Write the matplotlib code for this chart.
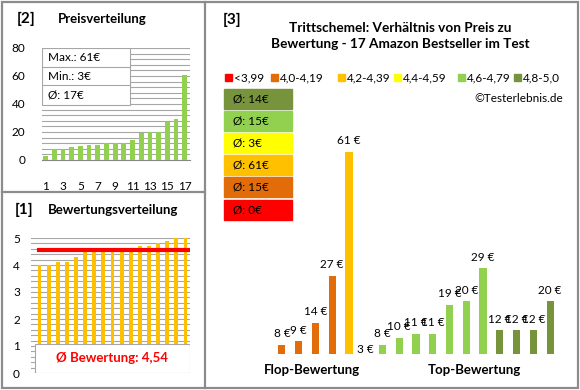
import numpy as np
import matplotlib
matplotlib.use('Agg')
import matplotlib.pyplot as plt
from matplotlib.patches import Rectangle

plt.rcParams['font.family'] = ['Lato', 'DejaVu Sans']

# --- data ---
class_labels = ['<3,99', '4,0-4,19', '4,2-4,39', '4,4-4,59', '4,6-4,79', '4,8-5,0']
class_colors = ['#FF0000', '#E36C0A', '#FFC000', '#FFFF00', '#92D050', '#77933C']

prices_sorted = [3, 8, 8, 9, 10, 11, 11, 12, 12, 12, 14, 19, 20, 20, 27, 29, 61]
ratings_sorted = [4.0, 4.0, 4.1, 4.1, 4.3, 4.5, 4.5, 4.5, 4.5, 4.5, 4.5, 4.7, 4.7, 4.8, 4.9, 5.0, 5.0]
mean_rating = 4.54

bar_prices = [8, 9, 14, 27, 61, 3, 8, 10, 11, 11, 19, 20, 29, 12, 12, 12, 20]
bar_class = [1, 1, 1, 1, 2, 3, 4, 4, 4, 4, 4, 4, 4, 5, 5, 5, 5]

title = 'Trittschemel: Verhältnis von Preis zu\nBewertung - 17 Amazon Bestseller im Test'

W, H = 580, 390
fig = plt.figure(figsize=(W / 100, H / 100), dpi=100)


def rect(x0, y0, x1, y1):
    return [x0 / W, 1 - y1 / H, (x1 - x0) / W, (y1 - y0) / H]


def rnd(v):
    return int(np.floor(v + 0.5))


# overlay in pixel coords for frames and free text
ov = fig.add_axes([0, 0, 1, 1], zorder=-1)
ov.set_xlim(0, W)
ov.set_ylim(H, 0)
ov.axis('off')
bc = '#8C8C8C'
ov.add_patch(Rectangle((1.5, 1.5), 576, 386.5, fill=False, ec=bc, lw=1.6))
ov.plot([205, 205], [1.5, 388], color=bc, lw=1.6)
ov.plot([1.5, 205], [192, 192], color=bc, lw=1.6)

ov.text(17, 19, '[2]', fontsize=11, fontweight='bold', va='center')
ov.text(58, 19, 'Preisverteilung', fontsize=9.5, fontweight='bold', va='center')
ov.text(15, 210, '[1]', fontsize=11, fontweight='bold', va='center')
ov.text(48, 210, 'Bewertungsverteilung', fontsize=9.5, fontweight='bold', va='center')
ov.text(223, 20, '[3]', fontsize=11, fontweight='bold', va='center')
ov.text(400, 36, title, fontsize=9.8, fontweight='bold', ha='center', va='center',
        linespacing=1.45)

# legend row
leg_x = [225, 271, 338, 394, 458, 514]
for x, lab, c in zip(leg_x, class_labels, class_colors):
    ov.add_patch(Rectangle((x, 74), 7, 7, color=c))
    ov.text(x + 9, 78, lab, fontsize=8.5, va='center')
ov.text(563, 98, '©Testerlebnis.de', fontsize=8.5, ha='right', va='center')

# average boxes per class (top: best class)
bp = np.array(bar_prices)
bcl = np.array(bar_class)
for i, k in enumerate(range(5, -1, -1)):
    sel = bp[bcl == k]
    avg = rnd(sel.mean()) if len(sel) else 0
    y0 = 89 + i * 22.1
    ov.add_patch(Rectangle((224, y0), 68, 20, color=class_colors[k]))
    ov.text(233, y0 + 10, 'Ø: %d€' % avg, fontsize=8.5, va='center')

# --- [2] price distribution ---
ax1 = fig.add_axes(rect(42, 48, 190, 160))
x = np.arange(1, len(prices_sorted) + 1)
ax1.bar(x, prices_sorted, width=0.55, color='#92D050', zorder=3)
ax1.set_xlim(0.6, 17.6)
ax1.set_ylim(0, 80)
ax1.set_yticks(range(0, 81, 20))
ax1.set_yticks(range(0, 81, 4), minor=True)
ax1.set_xticks(range(1, 18, 2))
ax1.grid(axis='y', which='both', color='#A6A6A6', lw=0.8, zorder=0)
for s in ['top', 'right', 'left']:
    ax1.spines[s].set_visible(False)
ax1.spines['bottom'].set_color('#868686')
ax1.tick_params(axis='both', which='both', length=0, labelsize=8.5)
ax1.tick_params(axis='y', pad=12)
ax1.tick_params(axis='x', pad=15)
stats = ['Max.: %d€' % max(prices_sorted), 'Min.: %d€' % min(prices_sorted),
         'Ø: %d€' % rnd(np.mean(prices_sorted))]
ax1.add_patch(Rectangle((0.6, 39.3), 10.1, 40.7, fc='white', ec='#A6A6A6', lw=0.8, zorder=4))
for j, s in enumerate(stats):
    yv = 80 - 6.7 - j * 13.3
    ax1.text(1.25, yv, s, fontsize=8.5, va='center', zorder=5)
    if j > 0:
        ax1.plot([0.6, 10.7], [yv + 6.65, yv + 6.65], color='#A6A6A6', lw=0.8, zorder=5)

# --- [1] rating distribution ---
ax2 = fig.add_axes(rect(31, 238, 190, 373))
x = np.arange(1, len(ratings_sorted) + 1)
ax2.bar(x, ratings_sorted, width=0.42, color='#FFC000', zorder=3)
ax2.set_xlim(0.07, 17.49)
ax2.set_ylim(0, 5)
ax2.set_yticks(range(0, 6))
ax2.set_yticks(np.arange(0, 5.01, 0.2), minor=True)
ax2.grid(axis='y', which='both', color='#A6A6A6', lw=0.8, zorder=0)
ax2.set_xticks([])
for s in ['top', 'right', 'left', 'bottom']:
    ax2.spines[s].set_visible(False)
ax2.tick_params(axis='y', which='both', length=0, labelsize=8.5, pad=8)
ax2.plot([0.95, 17.35], [mean_rating, mean_rating], color='#FF0000', lw=3, zorder=4)
ax2.add_patch(Rectangle((0.5, 0), 16.95, 1.07, fc='white', ec='#A6A6A6', lw=0.8, zorder=5))
ax2.text(8.95, 0.55, 'Ø Bewertung: %s' % ('%.2f' % mean_rating).replace('.', ','),
         fontsize=9.5, fontweight='bold', color='#FF0000', ha='center', va='center', zorder=6)

# --- [3] price vs rating ---
ax3 = fig.add_axes(rect(273.6, 119, 558.4, 354))
xi = np.arange(len(bar_prices))
ax3.bar(xi, bar_prices, width=0.42, color=[class_colors[k] for k in bar_class])
ax3.set_xlim(-0.5, 16.5)
ymin = 5.5
ax3.set_ylim(ymin, 70)
ax3.axis('off')
for xx, v in zip(xi, bar_prices):
    if v > ymin:
        ax3.annotate('%d €' % v, (xx, v), xytext=(0, 4), textcoords='offset points',
                     ha='center', va='bottom', fontsize=8.5)
    else:
        ax3.annotate('%d €' % v, (xx, ymin), xytext=(0, -1), textcoords='offset points',
                     ha='center', va='bottom', fontsize=8.5)
ov.text(312, 370, 'Flop-Bewertung', fontsize=9.5, fontweight='bold', ha='center', va='center')
ov.text(474, 370, 'Top-Bewertung', fontsize=9.5, fontweight='bold', ha='center', va='center')

fig.savefig('out.png', dpi=100)
